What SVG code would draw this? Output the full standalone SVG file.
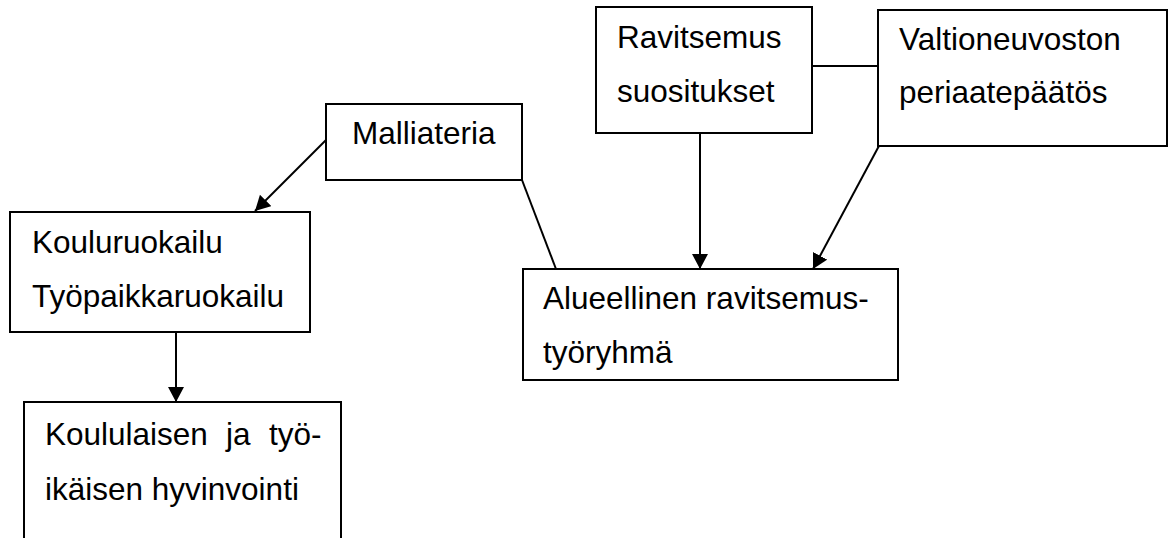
<svg xmlns="http://www.w3.org/2000/svg" width="1169" height="538" viewBox="0 0 1169 538">
<style>
.box{fill:#fff;stroke:#000;stroke-width:2}
.t{font-family:"Liberation Sans",Arial,sans-serif;font-size:31.5px;fill:#000}
.c{stroke:#000;stroke-width:2;fill:none}
</style>
<defs>
<marker id="ah" markerUnits="userSpaceOnUse" markerWidth="17" markerHeight="17" refX="15" refY="8" orient="auto">
<path d="M0,0 L15,8 L0,16 Z" fill="#000"/>
</marker>
</defs>
<g id="connectors">
<line class="c" x1="812" y1="66" x2="878" y2="66"/>
<line class="c" x1="522" y1="180" x2="556" y2="269"/>
<line class="c" x1="326" y1="140" x2="255" y2="211" marker-end="url(#ah)"/>
<line class="c" x1="176" y1="332" x2="176" y2="402" marker-end="url(#ah)"/>
<line class="c" x1="700" y1="133" x2="700" y2="269" marker-end="url(#ah)"/>
<line class="c" x1="880" y1="144" x2="813" y2="269" marker-end="url(#ah)"/>
</g>
<g id="ravitsemus">
<rect class="box" x="596" y="7" width="216" height="126"/>
<text class="t" x="617" y="48">Ravitsemus</text>
<text class="t" x="617" y="102">suositukset</text>
</g>
<g id="valtioneuvosto">
<rect class="box" x="878" y="10" width="289" height="136"/>
<text class="t" x="899" y="50">Valtioneuvoston</text>
<text class="t" x="899" y="103">periaatepäätös</text>
</g>
<g id="malliateria">
<rect class="box" x="326" y="104" width="196" height="76"/>
<text class="t" x="352" y="144">Malliateria</text>
</g>
<g id="kouluruokailu">
<rect class="box" x="10" y="212" width="300" height="120"/>
<text class="t" x="32" y="253">Kouluruokailu</text>
<text class="t" x="32" y="307">Työpaikkaruokailu</text>
</g>
<g id="alueellinen">
<rect class="box" x="523" y="269" width="375" height="111"/>
<text class="t" x="543" y="309">Alueellinen ravitsemus-</text>
<text class="t" x="543" y="363">työryhmä</text>
</g>
<g id="koululainen">
<rect class="box" x="24" y="402" width="317" height="160"/>
<text class="t" x="45" y="445"><tspan x="45">Koululaisen</tspan><tspan x="226">ja</tspan><tspan x="269">työ-</tspan></text>
<text class="t" x="45" y="500">ikäisen hyvinvointi</text>
</g>
</svg>
